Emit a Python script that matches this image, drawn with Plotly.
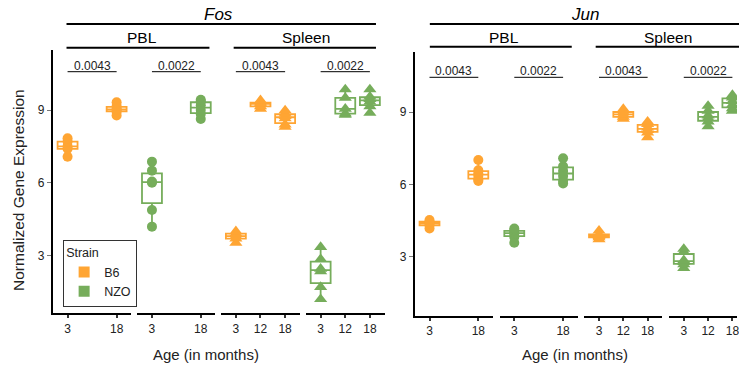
import numpy as np
import plotly.graph_objects as go

W, H = 739, 366
ORANGE = "#FFA533"
GREEN = "#76AD5B"
FONT = "Liberation Sans, Arial, Helvetica, sans-serif"

# ---------------- data ----------------
genes = ["Fos", "Jun"]
tissues = ["PBL", "Spleen"]
strains = ["B6", "NZO"]
ages_pbl = ["3", "18"]
ages_spleen = ["3", "12", "18"]
p_values_fos = ["0.0043", "0.0022", "0.0043", "0.0022"]
p_values_jun = ["0.0043", "0.0022", "0.0043", "0.0022"]

fos_pbl_b6_3 = [7.07, 7.40, 7.50, 7.70, 7.83]
fos_pbl_b6_18 = [8.77, 8.92, 9.00, 9.05, 9.16, 9.32]
fos_pbl_nzo_3 = [4.19, 4.88, 6.00, 6.05, 6.50, 6.87]
fos_pbl_nzo_18 = [8.63, 8.83, 9.00, 9.20, 9.36, 9.42]
fos_spl_b6_3 = [3.52, 3.70, 3.80, 3.90, 4.00]
fos_spl_b6_12 = [9.05, 9.15, 9.25, 9.30, 9.40]
fos_spl_b6_18 = [8.30, 8.40, 8.65, 8.75, 8.85, 8.98]
fos_spl_nzo_3 = [1.20, 1.70, 2.35, 2.45, 2.85, 3.35]
fos_spl_nzo_12 = [8.80, 8.85, 9.05, 9.50, 9.85]
fos_spl_nzo_18 = [8.88, 9.15, 9.35, 9.45, 9.55, 9.85]

jun_pbl_b6_3 = [4.17, 4.30, 4.38, 4.45, 4.52]
jun_pbl_b6_18 = [6.14, 6.20, 6.35, 6.45, 6.58, 7.01]
jun_pbl_nzo_3 = [3.58, 3.82, 3.95, 4.00, 4.10, 4.17]
jun_pbl_nzo_18 = [6.04, 6.15, 6.35, 6.55, 6.75, 7.08]
jun_spl_b6_3 = [3.72, 3.80, 3.85, 3.92, 4.08]
jun_spl_b6_12 = [8.72, 8.80, 8.90, 9.00, 9.12]
jun_spl_b6_18 = [7.95, 8.15, 8.25, 8.35, 8.50, 8.60]
jun_spl_nzo_3 = [2.53, 2.68, 2.78, 2.85, 3.20, 3.32]
jun_spl_nzo_12 = [8.40, 8.60, 8.75, 8.85, 9.05, 9.25]
jun_spl_nzo_18 = [9.05, 9.15, 9.30, 9.45, 9.60, 9.70]

# facet table: (gene, tissue, strain, ages, groups)
facets = [
    ("Fos", "PBL", "B6", ages_pbl, [fos_pbl_b6_3, fos_pbl_b6_18]),
    ("Fos", "PBL", "NZO", ages_pbl, [fos_pbl_nzo_3, fos_pbl_nzo_18]),
    ("Fos", "Spleen", "B6", ages_spleen, [fos_spl_b6_3, fos_spl_b6_12, fos_spl_b6_18]),
    ("Fos", "Spleen", "NZO", ages_spleen, [fos_spl_nzo_3, fos_spl_nzo_12, fos_spl_nzo_18]),
    ("Jun", "PBL", "B6", ages_pbl, [jun_pbl_b6_3, jun_pbl_b6_18]),
    ("Jun", "PBL", "NZO", ages_pbl, [jun_pbl_nzo_3, jun_pbl_nzo_18]),
    ("Jun", "Spleen", "B6", ages_spleen, [jun_spl_b6_3, jun_spl_b6_12, jun_spl_b6_18]),
    ("Jun", "Spleen", "NZO", ages_spleen, [jun_spl_nzo_3, jun_spl_nzo_12, jun_spl_nzo_18]),
]
p_values = p_values_fos + p_values_jun

# ---------------- layout geometry (pixels) ----------------
facet_px = [(53, 131.7), (137.7, 216), (221.7, 300.7), (306.7, 385.7),
            (416, 494.3), (501, 579.3), (586, 664), (671, 749)]
panel_y = {"Fos": dict(top=50, bottom=313.3, rng=[0.617, 11.474], axis="y"),
           "Jun": dict(top=51.7, bottom=315.7, rng=[0.554, 11.5], axis="y2")}
pline_y = {"Fos": 71.7, "Jun": 77.3}
ptext_y = {"Fos": 66.0, "Jun": 71.5}
BOX_PX = 20


def px(x):
    return x / W


def py(y):
    return 1 - y / H


strain_color = {"B6": ORANGE, "NZO": GREEN}
tissue_symbol = {"PBL": "circle", "Spleen": "triangle-up"}
tissue_size = {"PBL": 10, "Spleen": 11.5}

fig = go.Figure()
layout_axes = {}
shapes = []
annotations = []

for i, (gene, tissue, strain, ages, groups) in enumerate(facets):
    n = len(ages)
    pad = 0.3 if n == 2 else 0.6
    x0p, x1p = facet_px[i]
    scale = (x1p - x0p) / (n - 1 + 2 * pad)
    x1c = min(x1p, W)
    rng = [-pad, -pad + (x1c - x0p) / scale]
    xname = "x" if i == 0 else f"x{i + 1}"
    key = "xaxis" if i == 0 else f"xaxis{i + 1}"
    yname = panel_y[gene]["axis"]
    layout_axes[key] = dict(
        domain=[px(x0p), px(x1c)], range=rng, anchor=yname,
        tickmode="array", tickvals=list(range(n)), ticktext=ages,
        showline=True, linecolor="black", linewidth=2,
        ticks="outside", ticklen=3, tickwidth=2, tickcolor="#333",
        tickfont=dict(size=12, color="#222", family=FONT),
        ticklabeloverflow="allow",
        showgrid=False, zeroline=False, fixedrange=True,
    )
    color = strain_color[strain]
    bw = BOX_PX / scale
    for j, vals in enumerate(groups):
        v = np.array(vals)
        q1, med, q3 = np.percentile(v, [25, 50, 75])
        iqr = q3 - q1
        lo = v[v >= q1 - 1.5 * iqr].min()
        hi = v[v <= q3 + 1.5 * iqr].max()
        fig.add_trace(go.Box(
            x=[j], q1=[q1], median=[med], q3=[q3], lowerfence=[lo], upperfence=[hi],
            width=bw, fillcolor="white", line=dict(color=color, width=1.8),
            whiskerwidth=0, boxpoints=False, name=strain, legendgroup=strain,
            showlegend=False, xaxis=xname, yaxis=yname, hoverinfo="skip",
        ))
        fig.add_trace(go.Scatter(
            x=[j] * len(vals), y=vals, mode="markers",
            marker=dict(symbol=tissue_symbol[tissue], size=tissue_size[tissue],
                        color=color, line=dict(width=0)),
            showlegend=False, legendgroup=strain, xaxis=xname, yaxis=yname,
            hoverinfo="skip",
        ))
    # p-value bracket
    shapes.append(dict(type="line", xref=xname, yref="paper",
                       x0=0, x1=n - 1, y0=py(pline_y[gene]), y1=py(pline_y[gene]),
                       line=dict(color="black", width=1)))
    annotations.append(dict(text=p_values[i], xref=xname, yref="paper",
                            x=(n - 1) / 2, y=py(ptext_y[gene]), showarrow=False,
                            xanchor="center", yanchor="middle",
                            font=dict(size=12, color="#222", family=FONT)))

# legend-only entries (no data)
for s in strains:
    fig.add_trace(go.Scatter(
        x=[None], y=[None], mode="markers", name=s, legendgroup=s,
        marker=dict(symbol="square", size=11, color=strain_color[s]),
        showlegend=True, xaxis="x", yaxis="y",
    ))

for gene, d in panel_y.items():
    key = "yaxis" if d["axis"] == "y" else "yaxis2"
    anchor = "x" if gene == "Fos" else "x5"
    layout_axes[key] = dict(
        domain=[py(d["bottom"]), py(d["top"])], range=d["rng"], anchor=anchor,
        tickvals=[3, 6, 9], showline=True, linecolor="black", linewidth=2,
        ticks="outside", ticklen=4, tickwidth=1, tickcolor="#777",
        tickfont=dict(size=12, color="#222", family=FONT),
        showgrid=False, zeroline=False, fixedrange=True,
    )

# strip headers
header_lines = [(66.7, 377, 24), (66.7, 210, 47.7), (234.3, 377, 47.7),
                (431, 760, 24), (431, 573.3, 46.7), (597.3, 760, 46.7)]
for x0, x1, y in header_lines:
    shapes.append(dict(type="line", xref="paper", yref="paper",
                       x0=px(x0), x1=px(x1), y0=py(y), y1=py(y),
                       line=dict(color="black", width=2)))
header_text = [("<i>Fos</i>", 218.7, 14.5, 17), ("PBL", 142, 37, 15.5),
               ("Spleen", 307.3, 37.5, 15.5),
               ("<i>Jun</i>", 586.7, 14.5, 17), ("PBL", 505, 37, 15.5),
               ("Spleen", 670, 37.5, 15.5)]
for t, x, y, s in header_text:
    annotations.append(dict(text=t, xref="paper", yref="paper", x=px(x), y=py(y),
                            showarrow=False, xanchor="center", yanchor="middle",
                            font=dict(size=s, color="black", family=FONT)))

# axis titles
annotations.append(dict(text="Normalized Gene Expression", xref="paper", yref="paper",
                        x=px(18), y=py(190), textangle=-90, showarrow=False,
                        xanchor="center", yanchor="middle",
                        font=dict(size=15.5, color="#222", family=FONT)))
for x in (207, 577):
    annotations.append(dict(text="Age (in months)", xref="paper", yref="paper",
                            x=px(x), y=py(354), showarrow=False,
                            xanchor="center", yanchor="middle",
                            font=dict(size=15, color="#222", family=FONT)))

fig.update_layout(
    width=W, height=H, margin=dict(l=0, r=0, t=0, b=0),
    paper_bgcolor="white", plot_bgcolor="white",
    shapes=shapes, annotations=annotations,
    legend=dict(x=px(63.3), y=py(240), xanchor="left", yanchor="top",
                bgcolor="white", bordercolor="#333", borderwidth=1,
                title=dict(text="Strain", font=dict(size=12.5, color="#222", family=FONT)),
                font=dict(size=12.5, color="#222", family=FONT),
                itemwidth=30, tracegroupgap=0),
    font=dict(family=FONT),
    **layout_axes,
)

fig.write_html("out.html")
